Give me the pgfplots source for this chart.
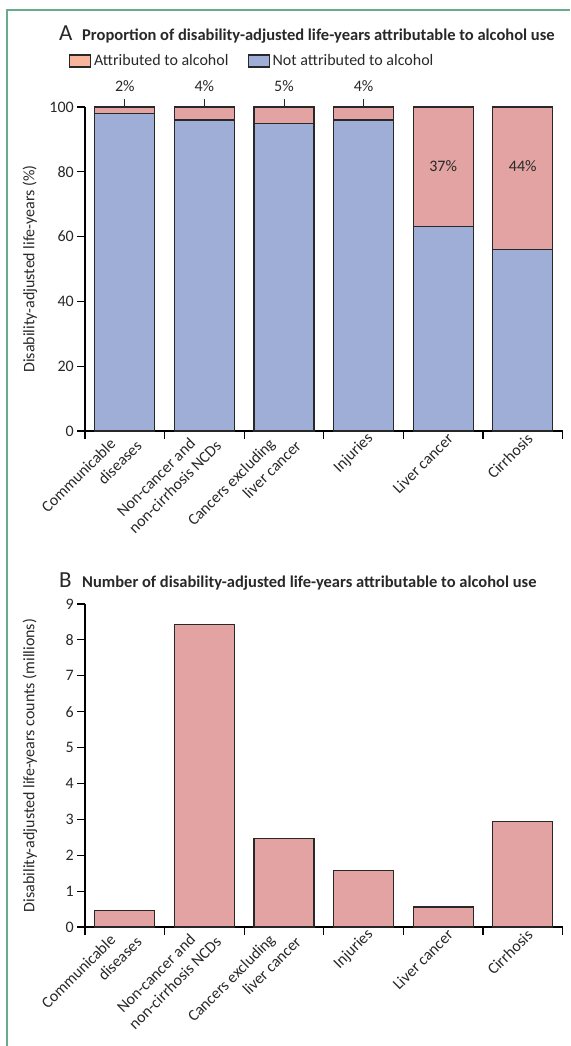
\documentclass[border=0pt]{standalone}
\usepackage{fontspec}
\setmainfont{Carlito}
\usepackage{pgfplots}
\pgfplotsset{compat=1.18}
\definecolor{framegreen}{RGB}{104,172,140}
\definecolor{pinkbar}{RGB}{226,163,162}
\definecolor{bluebar}{RGB}{158,174,214}
\definecolor{peach}{RGB}{247,182,156}
\definecolor{edge}{RGB}{40,40,40}
\definecolor{txt}{RGB}{40,40,40}
\newcommand{\fs}{\fontsize{16}{20}\selectfont}
\pgfplotsset{
  panel/.style={
    scale only axis, width=477.6pt,
    xmin=-0.5, xmax=5.5, ymin=0,
    clip=false,
    axis lines*=left,
    axis line style={line width=1.1pt, black},
    tick align=outside, major tick length=8pt,
    tick style={line width=1.1pt, black},
    xtick={-0.5,0.5,1.5,2.5,3.5,4.5,5.5}, xticklabels={},
    extra x ticks={0.09,1.09,2.09,3.09,4.09,5.09},
    extra x tick labels={{Communicable\hspace*{17pt}\\diseases},{Non-cancer and\hspace*{17pt}\\non-cirrhosis NCDs},{Cancers excluding\hspace*{17pt}\\liver cancer},{Injuries},{Liver cancer},{Cirrhosis}},
    extra x tick style={major tick length=0pt,
      xticklabel style={font=\fs, text=txt, inner sep=0pt, align=right, anchor=east, rotate=45},
      xticklabel shift=5pt},
    ticklabel style={font=\fs, text=txt},
    yticklabel style={inner sep=3pt},
    /pgf/number format/assume math mode=true,
    every axis y label/.style={at={([xshift=-55pt]axis description cs:0,0.5)}, rotate=90, anchor=center, font=\fs, text=txt},
    bar width=0.754,
  }
}
\begin{document}
\begin{tikzpicture}[x=1pt,y=1pt]
\useasboundingbox (0pt,0pt) rectangle (570pt,1046pt);
\draw[framegreen, line width=1.6pt] (7pt,0pt) -- (7pt,1036pt) -- (570pt,1036pt);

% Panel A
\begin{axis}[panel, at={(85pt,615pt)}, anchor=south west, height=324pt,
  ymax=100, ytick={0,20,40,60,80,100},
  ybar stacked,
  ylabel={Disability-adjusted life-years (\%)},
  legend image code/.code={\draw[#1] (0pt,-6pt) rectangle (21pt,6pt);},
  legend columns=2,
  legend style={at={(axis description cs:-0.0335,1.142)}, anchor=west, draw=none, fill=none,
    inner sep=0pt, outer sep=0pt, font=\fs, text=txt, nodes={inner sep=3pt},
    /tikz/every even column/.append style={column sep=16pt}},
  ]
\addplot[fill=bluebar, draw=edge, line width=1.2pt, forget plot] coordinates {(0,98) (1,96) (2,95) (3,96) (4,63) (5,56)};
\addplot[fill=pinkbar, draw=edge, line width=1.2pt, forget plot] coordinates {(0,2) (1,4) (2,5) (3,4) (4,37) (5,44)};
\addlegendimage{fill=peach, draw=edge, line width=1.1pt}
\addlegendentry{Attributed to alcohol}
\addlegendimage{fill=bluebar, draw=edge, line width=1.1pt}
\addlegendentry{Not attributed to alcohol}
\coordinate (t0) at (axis cs:0,100);
\coordinate (t1) at (axis cs:1,100);
\coordinate (t2) at (axis cs:2,100);
\coordinate (t3) at (axis cs:3,100);
\coordinate (m4) at (axis cs:4,81.8);
\coordinate (m5) at (axis cs:5,81.8);
\end{axis}

\draw[line width=1pt, edge] (t0) -- ++(0pt,8pt);
\draw[line width=1pt, edge] (t1) -- ++(0pt,8pt);
\draw[line width=1pt, edge] (t2) -- ++(0pt,8pt);
\draw[line width=1pt, edge] (t3) -- ++(0pt,8pt);
\node[font=\fs, text=txt, anchor=base] at ([yshift=15pt]t0) {2\%};
\node[font=\fs, text=txt, anchor=base] at ([yshift=15pt]t1) {4\%};
\node[font=\fs, text=txt, anchor=base] at ([yshift=15pt]t2) {5\%};
\node[font=\fs, text=txt, anchor=base] at ([yshift=15pt]t3) {4\%};
\node[font=\fs, text=txt] at (m4) {37\%};
\node[font=\fs, text=txt] at (m5) {44\%};

% Panel B
\begin{axis}[panel, at={(85pt,119pt)}, anchor=south west, height=323pt,
  ymax=9, ytick={0,1,2,3,4,5,6,7,8,9},
  ybar,
  ylabel={Disability-adjusted life-years counts (millions)},
  ]
\addplot[fill=pinkbar, draw=edge, line width=1.2pt] coordinates {(0,0.46) (1,8.43) (2,2.47) (3,1.58) (4,0.56) (5,2.93)};
\end{axis}

\node[anchor=base west, inner sep=0pt, text=txt, font=\fontsize{23}{26}\selectfont] at (59pt,1005pt) {A};
\node[anchor=base west, inner sep=0pt, text=txt, font=\fontsize{16.5}{20}\selectfont\bfseries] at (82pt,1005pt) {Proportion of disability-adjusted life-years attributable to alcohol use};
\node[anchor=base west, inner sep=0pt, text=txt, font=\fontsize{23}{26}\selectfont] at (59pt,458pt) {B};
\node[anchor=base west, inner sep=0pt, text=txt, font=\fontsize{16.5}{20}\selectfont\bfseries] at (82pt,458pt) {Number of disability-adjusted life-years attributable to alcohol use};
\end{tikzpicture}
\end{document}
